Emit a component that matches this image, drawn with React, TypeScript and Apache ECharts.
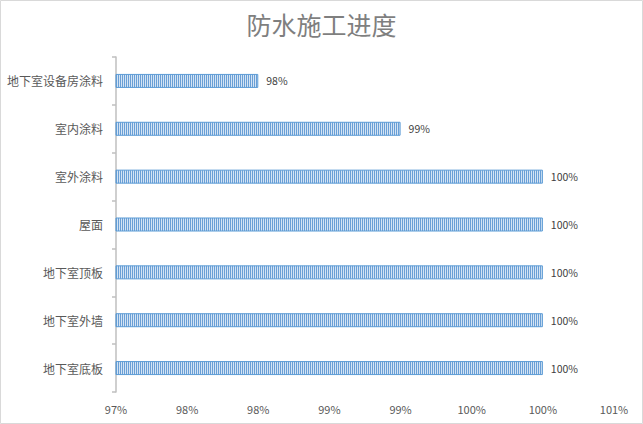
import React, { useEffect, useRef } from "react";
import * as echarts from "echarts";

const titleText = "防水施工进度";
const categories = ["地下室设备房涂料", "室内涂料", "室外涂料", "屋面", "地下室顶板", "地下室外墙", "地下室底板"];
const values = [98, 99, 100, 100, 100, 100, 100];
const xMin = 97;
const xMax = 100.5;
const xStep = 0.5;

function makePattern() {
  const c = document.createElement("canvas");
  c.width = 2;
  c.height = 4;
  const ctx = c.getContext("2d")!;
  ctx.fillStyle = "#6a9fd6";
  ctx.fillRect(0, 0, 1, 4);
  ctx.fillStyle = "#d4e4f4";
  ctx.fillRect(1, 0, 1, 4);
  return c;
}

export default function App() {
  const ref = useRef<HTMLDivElement>(null);
  useEffect(() => {
    document.body.style.margin = "0";
    const chart = echarts.init(ref.current!, undefined, { renderer: "svg" });
    const font = "'Noto Sans CJK SC', 'Noto Sans', sans-serif";
    chart.setOption({
      animation: false,
      backgroundColor: "#ffffff",
      title: {
        text: titleText,
        left: "center",
        top: 6,
        textStyle: { fontFamily: font, fontSize: 25, fontWeight: "normal", color: "#7f7f7f" },
      },
      graphic: [
        {
          type: "rect",
          shape: { x: 0.5, y: 0.5, width: 642, height: 423 },
          style: { fill: "none", stroke: "#d9d9d9", lineWidth: 1 },
          silent: true,
        },
      ],
      grid: { left: 116, right: 29, top: 57, bottom: 32, containLabel: false },
      xAxis: {
        type: "value",
        min: xMin,
        max: xMax,
        interval: xStep,
        axisLine: { show: false },
        axisTick: { show: false },
        splitLine: { show: false },
        axisLabel: {
          color: "#595959",
          fontSize: 11,
          fontFamily: font,
          margin: 11,
          formatter: (v: number) => Math.round(v) + "%",
        },
      },
      yAxis: {
        type: "category",
        inverse: true,
        data: categories,
        axisLine: { show: true, lineStyle: { color: "#bfbfbf", width: 1.5 } },
        axisTick: { show: true, length: 4, lineStyle: { color: "#bfbfbf", width: 1.5 } },
        axisLabel: { color: "#595959", fontSize: 12, fontFamily: font, margin: 13 },
      },
      series: [
        {
          type: "bar",
          data: values,
          barWidth: 14,
          itemStyle: {
            color: { image: makePattern(), repeat: "repeat" },
            borderColor: "#5b9bd5",
            borderWidth: 1,
          },
          label: {
            show: true,
            position: "right",
            distance: 8,
            color: "#404040",
            fontSize: 10.5,
            fontFamily: font,
            formatter: (p: any) => Math.round(p.value) + "%",
          },
        },
      ],
    });
    return () => chart.dispose();
  }, []);
  return <div ref={ref} style={{ position: "fixed", left: 0, top: 0, width: 643, height: 424 }} />;
}
